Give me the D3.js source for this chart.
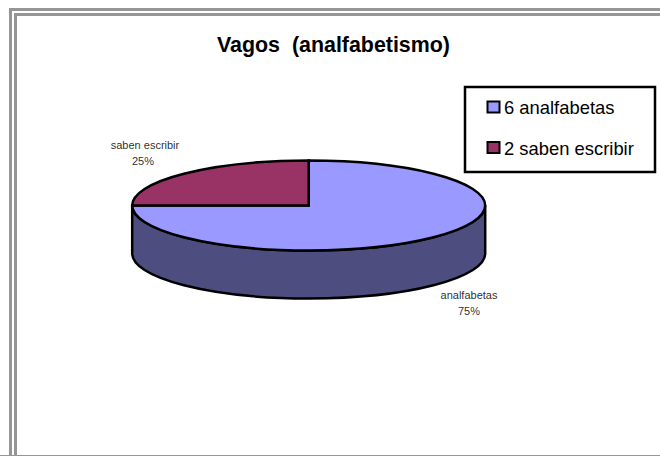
<!DOCTYPE html>
<html>
<head>
<meta charset="utf-8">
<script src="https://cdn.jsdelivr.net/npm/d3@7"></script>
<style>
body { margin: 0; background: #fff; }
svg { display: block; }
text { font-family: "Liberation Sans", Arial, sans-serif; fill: #000; }
</style>
</head>
<body>
<script>
var categories = ["analfabetas", "saben escribir"];
var counts = [6, 2];
var percents = ["75%", "25%"];
var colors = ["#9999ff", "#993366"];
var sideColor = "#4d4d80";

var width = 660, height = 456;
var cx = 308.7, cy = 205.5, rx = 176.5, ry = 45, depth = 48;

var svg = d3.select("body").append("svg")
	.attr("width", width)
	.attr("height", height);

// marco gris
var frame = svg.append("g").attr("fill", "none").attr("stroke", "#969696").attr("stroke-width", 3);
frame.append("path").attr("d", "M10.5 456V9.5H660");
frame.append("path").attr("d", "M15.5 456V14.5H660");
frame.append("path").attr("d", "M0 455.5H660").attr("stroke-width", 1);

svg.append("text")
	.attr("x", 333.5).attr("y", 52)
	.attr("text-anchor", "middle")
	.attr("font-size", 21.4).attr("font-weight", "bold")
	.style("white-space", "pre")
	.text("Vagos  (analfabetismo)");

var slices = d3.pie().sort(null).value(function(d){return d;})(counts);
var arc = d3.arc().innerRadius(0).outerRadius(rx);

// lado del cilindro
svg.append("path")
	.attr("d", "M" + (cx - rx) + " " + cy +
		"V" + (cy + depth) +
		"A" + rx + " " + ry + " 0 0 0 " + (cx + rx) + " " + (cy + depth) +
		"V" + cy +
		"A" + rx + " " + ry + " 0 0 1 " + (cx - rx) + " " + cy + "Z")
	.attr("fill", sideColor)
	.attr("stroke", "#000").attr("stroke-width", 2.5);

// tapa
svg.append("g")
	.attr("transform", "translate(" + cx + "," + cy + ") scale(1," + (ry / rx) + ")")
	.selectAll("path").data(slices)
	.enter().append("path")
	.attr("d", arc)
	.attr("fill", function(d, i){return colors[i];})
	.attr("stroke", "#000").attr("stroke-width", 2.5)
	.attr("vector-effect", "non-scaling-stroke");

// etiquetas
var labelPos = [[469, 299], [145, 149]];
categories.forEach(function(c, i){
	var t = svg.append("text")
		.attr("text-anchor", "middle")
		.attr("font-size", 11)
		.attr("fill-opacity", 0.85);
	t.append("tspan").attr("x", labelPos[i][0]).attr("y", labelPos[i][1]).text(c);
	t.append("tspan").attr("x", labelPos[i][0] - (i ? 2 : 0)).attr("y", labelPos[i][1] + 16).text(percents[i]);
});

// leyenda
svg.append("rect")
	.attr("x", 465).attr("y", 87).attr("width", 190).attr("height", 85)
	.attr("fill", "#fff").attr("stroke", "#000").attr("stroke-width", 2.5);

var legend = svg.selectAll(".leg").data(categories).enter().append("g")
	.attr("class", "leg")
	.attr("transform", function(d, i){return "translate(0," + (i * 40.5) + ")";});
legend.append("rect")
	.attr("x", 487.5).attr("y", 101.5).attr("width", 12).attr("height", 11)
	.attr("fill", function(d, i){return colors[i];})
	.attr("stroke", "#000").attr("stroke-width", 2);
legend.append("text")
	.attr("x", 504).attr("y", 114)
	.attr("font-size", 18.4)
	.text(function(d, i){return counts[i] + " " + d;});
</script>
</body>
</html>
